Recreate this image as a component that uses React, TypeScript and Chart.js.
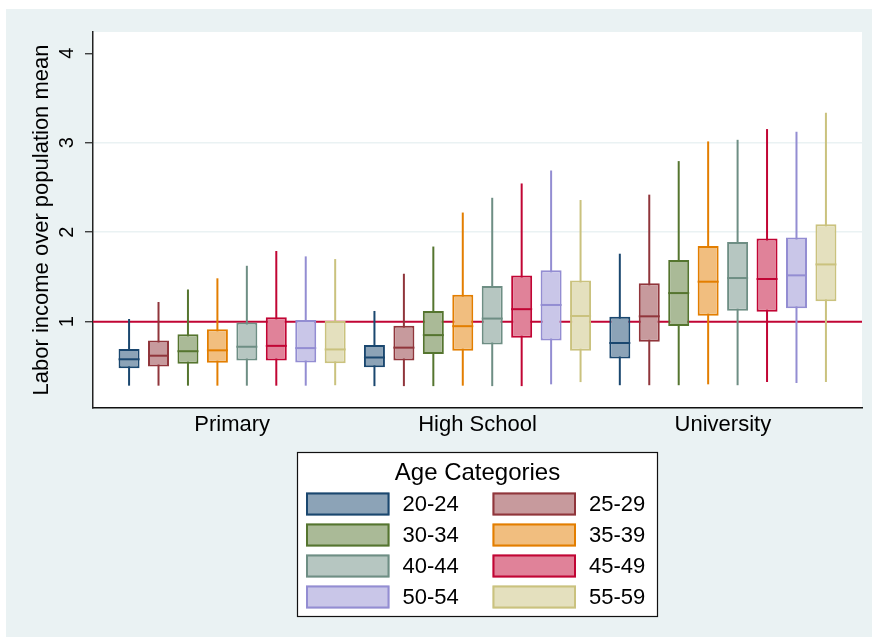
import React, { useEffect, useRef } from 'react';
import { Chart, registerables } from 'chart.js';

Chart.register(...registerables);

const educationLevels = ['Primary', 'High School', 'University'];
const ageCategories = ['20-24', '25-29', '30-34', '35-39', '40-44', '45-49', '50-54', '55-59'];
const yTicks = [1, 2, 3, 4];
const gridTicks = [2, 3];
const referenceLine = 1;
const yAxisTitle = 'Labor income over population mean';
const legendTitle = 'Age Categories';

// rows: age categories; columns: Primary, High School, University
const lowerWhisker = [
  [0.285, 0.28, 0.29],
  [0.285, 0.28, 0.29],
  [0.285, 0.28, 0.29],
  [0.285, 0.285, 0.3],
  [0.285, 0.28, 0.29],
  [0.285, 0.28, 0.326],
  [0.285, 0.3, 0.315],
  [0.29, 0.325, 0.326],
];
const q1 = [
  [0.48, 0.49, 0.59],
  [0.5, 0.565, 0.777],
  [0.53, 0.64, 0.952],
  [0.54, 0.675, 1.067],
  [0.565, 0.745, 1.123],
  [0.565, 0.82, 1.112],
  [0.545, 0.79, 1.15],
  [0.535, 0.675, 1.228],
];
const median = [
  [0.58, 0.6, 0.762],
  [0.62, 0.71, 1.06],
  [0.67, 0.85, 1.32],
  [0.68, 0.95, 1.447],
  [0.72, 1.035, 1.488],
  [0.73, 1.14, 1.477],
  [0.705, 1.187, 1.518],
  [0.69, 1.064, 1.64],
];
const q3 = [
  [0.695, 0.74, 1.056],
  [0.79, 0.955, 1.43],
  [0.86, 1.12, 1.69],
  [0.915, 1.3, 1.846],
  [0.99, 1.4, 1.89],
  [1.05, 1.515, 1.93],
  [1.02, 1.575, 1.94],
  [1.008, 1.46, 2.09],
];
const upperWhisker = [
  [1.03, 1.12, 1.76],
  [1.22, 1.536, 2.42],
  [1.36, 1.84, 2.795],
  [1.485, 2.22, 3.015],
  [1.625, 2.385, 3.033],
  [1.79, 2.545, 3.153],
  [1.73, 2.69, 3.123],
  [1.7, 2.36, 3.335],
];

const lineColors = ['#1a476f', '#90353b', '#55752f', '#e37e00', '#6e8e84', '#c10534', '#938dd2', '#cac27e'];
const fillColors = ['#8ca3b7', '#c79a9d', '#aaba97', '#f1be7f', '#b6c6c1', '#e08299', '#c9c6e8', '#e4e0be'];

const FONT = '"Liberation Sans", Arial, Helvetica, sans-serif';
const BOX_STEP = 0.12;

const stataPlugin = {
  id: 'stataBoxPlot',
  beforeDraw(chart: any) {
    const { ctx, chartArea: a } = chart;
    ctx.save();
    ctx.fillStyle = '#ffffff';
    ctx.fillRect(a.left, a.top, a.right - a.left, a.bottom - a.top);
    ctx.restore();
  },
  beforeDatasetsDraw(chart: any) {
    const { ctx, chartArea: a } = chart;
    const y = chart.scales.y;
    ctx.save();
    const yr = y.getPixelForValue(referenceLine);
    ctx.strokeStyle = '#c10534';
    ctx.lineWidth = 2;
    ctx.beginPath();
    ctx.moveTo(a.left, yr);
    ctx.lineTo(a.right, yr);
    ctx.stroke();
    chart.data.datasets.forEach((_ds: any, i: number) => {
      const meta = chart.getDatasetMeta(i);
      meta.data.forEach((el: any, g: number) => {
        const x = el.x;
        ctx.strokeStyle = lineColors[i];
        ctx.lineWidth = 2;
        ctx.beginPath();
        ctx.moveTo(x, y.getPixelForValue(lowerWhisker[i][g]));
        ctx.lineTo(x, y.getPixelForValue(upperWhisker[i][g]));
        ctx.stroke();
      });
    });
    ctx.restore();
  },
  afterDatasetsDraw(chart: any) {
    const { ctx } = chart;
    const y = chart.scales.y;
    ctx.save();
    chart.data.datasets.forEach((_ds: any, i: number) => {
      const meta = chart.getDatasetMeta(i);
      meta.data.forEach((el: any, g: number) => {
        const w = el.width;
        const ym = y.getPixelForValue(median[i][g]);
        ctx.strokeStyle = lineColors[i];
        ctx.lineWidth = 2;
        ctx.beginPath();
        ctx.moveTo(el.x - w / 2, ym);
        ctx.lineTo(el.x + w / 2, ym);
        ctx.stroke();
      });
    });
    ctx.restore();
  },
  afterDraw(chart: any) {
    const { ctx, chartArea: a } = chart;
    const x = chart.scales.x;
    const y = chart.scales.y;
    ctx.save();
    ctx.fillStyle = '#000000';
    // y tick labels (rotated)
    ctx.font = `20px ${FONT}`;
    ctx.textAlign = 'center';
    ctx.textBaseline = 'middle';
    y.ticks.forEach((t: any) => {
      const py = y.getPixelForValue(t.value);
      ctx.save();
      ctx.translate(a.left - 26, py);
      ctx.rotate(-Math.PI / 2);
      ctx.fillText(String(t.value), 0, 0);
      ctx.restore();
    });
    // y axis title
    ctx.font = `22px ${FONT}`;
    ctx.save();
    ctx.translate(a.left - 51.5, (a.top + a.bottom) / 2);
    ctx.rotate(-Math.PI / 2);
    ctx.fillText(yAxisTitle, 0, 0);
    ctx.restore();
    // category labels
    educationLevels.forEach((lab, g) => {
      ctx.fillText(lab, x.getPixelForValue(g + 1), a.bottom + 17);
    });
    // legend
    const lw = 361;
    const lh = 165;
    const cx = (a.left + a.right) / 2;
    const lx = Math.round(cx - lw / 2);
    const ly = Math.round(a.bottom + 44);
    ctx.fillStyle = '#ffffff';
    ctx.fillRect(lx, ly, lw, lh);
    ctx.strokeStyle = '#111111';
    ctx.lineWidth = 1.2;
    ctx.strokeRect(lx + 0.5, ly + 0.5, lw - 1, lh - 1);
    ctx.fillStyle = '#000000';
    ctx.font = `24px ${FONT}`;
    ctx.fillText(legendTitle, cx, ly + 21);
    ctx.font = `22px ${FONT}`;
    ctx.textAlign = 'left';
    ageCategories.forEach((lab, i) => {
      const col = i % 2;
      const row = Math.floor(i / 2);
      const sx = lx + (col ? 195.5 : 9);
      const sy = ly + 52 + row * 31;
      ctx.fillStyle = fillColors[i];
      ctx.fillRect(sx, sy - 11.5, 83.5, 23);
      ctx.strokeStyle = lineColors[i];
      ctx.lineWidth = 2;
      ctx.strokeRect(sx + 1, sy - 10.5, 81.5, 21);
      ctx.fillStyle = '#000000';
      ctx.fillText(lab, lx + (col ? 292 : 105.5), sy + 1);
    });
    ctx.restore();
  },
};

export default function App() {
  const canvasRef = useRef<HTMLCanvasElement | null>(null);

  useEffect(() => {
    const canvas = canvasRef.current;
    if (!canvas) return;
    const datasets = ageCategories.map((label, i) => ({
      label,
      data: educationLevels.map((_e, g) => ({
        x: g + 1 + (i - 3.5) * BOX_STEP,
        y: [q1[i][g], q3[i][g]],
      })),
      backgroundColor: fillColors[i],
      borderColor: lineColors[i],
      borderWidth: 2,
      borderSkipped: false,
      grouped: false,
      barThickness: 21,
      inflateAmount: 0,
    }));
    const chart = new Chart(canvas, {
      type: 'bar',
      data: { datasets } as any,
      options: {
        responsive: false,
        animation: false,
        events: [],
        layout: { padding: { top: 23, right: 10, left: 0, bottom: 0 } },
        plugins: { legend: { display: false }, tooltip: { enabled: false } },
        scales: {
          x: {
            type: 'linear',
            offset: false,
            min: 0.433,
            max: 3.567,
            ticks: { display: false },
            grid: { display: true, offset: false, drawOnChartArea: false, drawTicks: false, color: 'rgba(0,0,0,0)' },
            border: { display: true, color: '#111111', width: 1.5 },
            afterFit: (s: any) => {
              s.height = 229;
            },
          },
          y: {
            type: 'linear',
            min: 0.0354,
            max: 4.238,
            afterBuildTicks: (s: any) => {
              s.ticks = yTicks.map((v) => ({ value: v }));
            },
            ticks: { display: false },
            grid: {
              color: (c: any) => (gridTicks.includes(c.tick && c.tick.value) ? '#eaf2f3' : 'rgba(0,0,0,0)'),
              lineWidth: 1.5,
              drawTicks: true,
              tickLength: 8,
              tickColor: '#222222',
              tickWidth: 1.2,
            },
            border: { display: true, color: '#222222', width: 1.5 },
            afterFit: (s: any) => {
              s.width = 87;
            },
          },
        },
      } as any,
      plugins: [stataPlugin],
    });
    return () => chart.destroy();
  }, []);

  return (
    <div
      style={{
        position: 'absolute',
        left: 6,
        top: 9,
        width: 866,
        height: 628,
        background: '#eaf2f3',
      }}
    >
      <canvas ref={canvasRef} width={866} height={628} style={{ display: 'block' }} />
    </div>
  );
}
